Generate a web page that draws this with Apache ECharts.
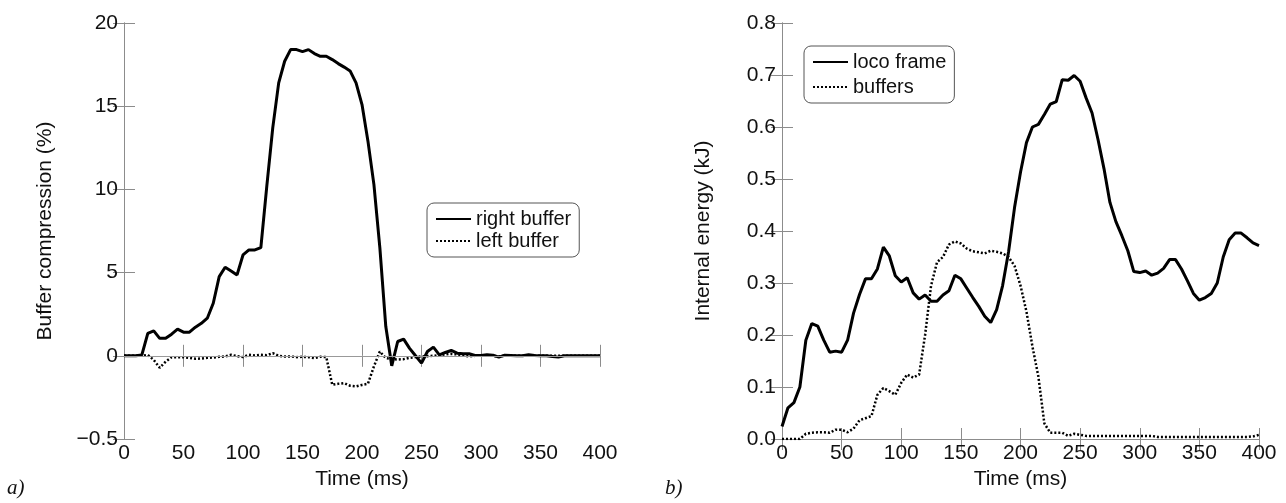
<!DOCTYPE html>
<html><head><meta charset="utf-8">
<script src="https://cdn.jsdelivr.net/npm/echarts@6/dist/echarts.min.js"></script>
<style>html,body{margin:0;padding:0;background:#fff}#c{width:1286px;height:503px}</style>
</head><body><div id="c"></div>
<script>
// ---- data ----
const timeA = [0,5,10,15,20,25,30,35,40,45,50,55,60,65,70,75,80,85,90,95,100,105,110,115,120,125,130,135,140,145,150,155,160,165,170,175,180,185,190,195,200,205,210,215,220,225,230,235,240,245,250,255,260,265,270,275,280,285,290,295,300,305,310,315,320,325,330,335,340,345,350,355,360,365,370,375,380,385,390,395,400];
const rightBuffer = [0,0,0,0.05,1.35,1.5,1.05,1.05,1.3,1.6,1.42,1.42,1.72,1.95,2.26,3.16,4.76,5.32,5.1,4.86,6.06,6.36,6.36,6.5,10.2,13.7,16.4,17.7,18.4,18.4,18.28,18.4,18.16,18.0,18.0,17.8,17.56,17.35,17.12,16.4,15.1,12.9,10.3,6.5,1.76,-0.6,0.86,1.0,0.45,0.0,-0.44,0.26,0.52,0.06,0.2,0.32,0.16,0.12,0.12,0.02,0.02,0.06,0.04,-0.08,0.04,0.02,0,0,0.06,0.02,0,0,-0.04,-0.08,0,0,0,0,0,0,0];
const leftBuffer = [0,0,0,0,0.05,-0.25,-0.72,-0.35,-0.08,-0.08,-0.08,-0.12,-0.18,-0.16,-0.12,-0.1,-0.06,-0.04,0.06,-0.02,-0.08,0.06,0.02,0.06,0.04,0.16,0.0,-0.04,-0.04,-0.08,-0.06,-0.08,-0.14,-0.06,-0.08,-1.74,-1.68,-1.64,-1.8,-1.84,-1.75,-1.68,-0.64,0.26,-0.14,-0.2,-0.22,-0.2,-0.12,-0.08,-0.04,-0.02,0,0.04,0.08,0.12,0.08,0.02,-0.04,0,0,0,0,-0.04,0,0,0,0,0,0,0,0,0,0,0,0,0,0,0,0,0];

const timeB = timeA;
const locoFrame = [0.024,0.06,0.07,0.1,0.19,0.222,0.217,0.19,0.167,0.169,0.167,0.19,0.242,0.278,0.308,0.308,0.327,0.369,0.352,0.314,0.302,0.31,0.281,0.269,0.277,0.265,0.265,0.277,0.285,0.315,0.308,0.29,0.272,0.255,0.236,0.224,0.249,0.295,0.36,0.445,0.513,0.57,0.6,0.605,0.624,0.644,0.649,0.691,0.69,0.699,0.688,0.656,0.627,0.576,0.52,0.455,0.418,0.391,0.362,0.322,0.32,0.323,0.315,0.319,0.328,0.345,0.345,0.327,0.304,0.28,0.267,0.272,0.28,0.3,0.35,0.383,0.396,0.396,0.387,0.377,0.372];
const buffers = [0,0,0,0,0.01,0.012,0.013,0.013,0.012,0.018,0.018,0.013,0.02,0.036,0.04,0.044,0.085,0.098,0.092,0.085,0.108,0.124,0.118,0.124,0.2,0.295,0.34,0.35,0.374,0.38,0.376,0.366,0.361,0.359,0.357,0.362,0.36,0.357,0.35,0.333,0.295,0.245,0.178,0.12,0.03,0.012,0.012,0.012,0.006,0.01,0.008,0.006,0.006,0.006,0.006,0.006,0.006,0.006,0.006,0.006,0.006,0.006,0.006,0.004,0.004,0.004,0.004,0.004,0.004,0.004,0.004,0.004,0.004,0.004,0.004,0.004,0.004,0.004,0.004,0.005,0.008];

const xTicks = [0,50,100,150,200,250,300,350,400];
const yTicksA = [-5,0,5,10,15,20];
const yTickLabelsA = ['\u22120.5','0','5','10','15','20'];
const yTicksB = [0,0.1,0.2,0.3,0.4,0.5,0.6,0.7,0.8];
const yTickLabelsB = ['0.0','0.1','0.2','0.3','0.4','0.5','0.6','0.7','0.8'];

// ---- chart ----
const FONT = '"Liberation Sans",Arial,sans-serif';
const FS = 21;
const GRAY = '#8c8c8c';
const pairs = (xs, ys) => xs.map((x, i) => [x, ys[i]]);
const tick = {show: true, inside: true, length: 11, lineStyle: {color: GRAY, width: 1}};
const line = {show: true, lineStyle: {color: GRAY, width: 1}};

function xAx(grid, top) {
  return {type: 'value', gridIndex: grid, position: top ? 'top' : 'bottom',
    min: xTicks[0], max: xTicks[xTicks.length - 1], interval: xTicks[1] - xTicks[0],
    axisLine: line, axisTick: tick, splitLine: {show: false},
    axisLabel: {show: !top, color: '#111', fontFamily: FONT, fontSize: FS, margin: 4},
    name: top ? '' : 'Time (ms)', nameLocation: 'middle', nameGap: 26,
    nameTextStyle: {color: '#111', fontFamily: FONT, fontSize: FS}};
}
function yAx(grid, right, ticks, labels, name) {
  return {type: 'value', gridIndex: grid, position: right ? 'right' : 'left',
    min: ticks[0], max: ticks[ticks.length - 1], interval: ticks[1] - ticks[0],
    axisLine: line, axisTick: tick, splitLine: {show: false},
    axisLabel: {show: !right, color: '#111', fontFamily: FONT, fontSize: FS, margin: 6,
      formatter: v => { const i = ticks.findIndex(t => Math.abs(t - v) < 1e-9); return i >= 0 ? labels[i] : ''; }},
    name: right ? '' : name, nameLocation: 'middle', nameGap: 68, nameRotate: 90,
    nameTextStyle: {color: '#111', fontFamily: FONT, fontSize: FS}};
}
const legendBase = {orient: 'vertical', borderColor: '#555', borderWidth: 1, borderRadius: 7,
  itemWidth: 35, itemHeight: 14, itemGap: 2,
  itemStyle: {opacity: 0},
  textStyle: {color: '#111', fontFamily: FONT, fontSize: 20}};

const chart = echarts.init(document.getElementById('c'), null, {renderer: 'canvas'});
chart.setOption({
  animation: false,
  backgroundColor: '#fff',
  grid: [
    {left: 124, top: 23, width: 476, height: 416},
    {left: 782, top: 23, width: 477, height: 416}
  ],
  xAxis: [xAx(0, false), xAx(0, true), xAx(1, false), xAx(1, true)],
  yAxis: [
    yAx(0, false, yTicksA, yTickLabelsA, 'Buffer compression (%)'),
    yAx(0, true, yTicksA, yTickLabelsA, ''),
    yAx(1, false, yTicksB, yTickLabelsB, 'Internal energy (kJ)'),
    yAx(1, true, yTicksB, yTickLabelsB, '')
  ],
  legend: [
    Object.assign({}, legendBase, {data: ['right buffer', 'left buffer'], left: 427, top: 203, padding: [6, 8, 6, 8]}),
    Object.assign({}, legendBase, {data: ['loco frame', 'buffers'], left: 804, top: 46, padding: [6, 8, 6, 8], itemGap: 5})
  ],
  graphic: [
    {type: 'text', left: 7, top: 478, style: {text: 'a)', font: 'italic 21px "Liberation Serif", serif', fill: '#111'}},
    {type: 'text', left: 665, top: 478, style: {text: 'b)', font: 'italic 21px "Liberation Serif", serif', fill: '#111'}}
  ],
  series: [
    {name: 'right buffer', type: 'line', xAxisIndex: 0, yAxisIndex: 0, symbol: 'none',
     data: pairs(timeA, rightBuffer), lineStyle: {color: '#000', width: 3}, itemStyle: {color: '#000'}, z: 3,
     markLine: {silent: true, symbol: 'none', label: {show: false}, lineStyle: {color: '#999', width: 1, type: 'solid'}, data: [{yAxis: 0}]}},
    {name: 'left buffer', type: 'line', xAxisIndex: 0, yAxisIndex: 0, symbol: 'none',
     data: pairs(timeA, leftBuffer), lineStyle: {color: '#000', width: 2.5, type: [2, 2]}, itemStyle: {color: '#000'}, z: 4},
    {name: 'loco frame', type: 'line', xAxisIndex: 2, yAxisIndex: 2, symbol: 'none',
     data: pairs(timeB, locoFrame), lineStyle: {color: '#000', width: 3}, itemStyle: {color: '#000'}},
    {name: 'buffers', type: 'line', xAxisIndex: 2, yAxisIndex: 2, symbol: 'none',
     data: pairs(timeB, buffers), lineStyle: {color: '#000', width: 2.5, type: [2, 2]}, itemStyle: {color: '#000'}}
  ]
});
</script></body></html>
